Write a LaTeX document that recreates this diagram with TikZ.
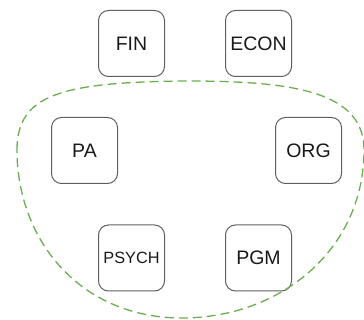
\documentclass[tikz,border=0pt]{standalone}
\usepackage{fontspec}
\setmainfont{Liberation Sans}
\definecolor{boxline}{HTML}{5F5F5F}
\definecolor{groupgreen}{HTML}{6AAE4F}
\begin{document}
\begin{tikzpicture}[x=1pt,y=-1pt,
  field/.style={draw=boxline, line width=1pt, rounded corners=10pt,
    minimum width=66pt, minimum height=66pt, inner sep=0pt,
    font=\fontsize{19.5}{22}\selectfont, text=black!90},
  smallfield/.style={field, font=\fontsize{16.3}{18}\selectfont},
  group/.style={draw=groupgreen, line width=1.3pt, dash pattern=on 9pt off 5pt}]
  \useasboundingbox (0,0) rectangle (364,320);
  \clip (0,0) rectangle (364,320);

  % subject areas
  \node[field] (fin)   at (131.5,43.5) {FIN};
  \node[field] (econ)  at (258.5,43.5) {ECON};
  \node[field] (pa)    at (84.5,150.5) {PA};
  \node[field] (org)   at (308.5,150.5) {ORG};
  \node[smallfield] (psych) at (131.5,258) {PSYCH};
  \node[field] (pgm)   at (258.5,258) {PGM};

  % dashed boundary around the grouped areas
  \draw[group] (17,150) .. controls (17,95) and (60,82) .. (187,81)
    .. controls (295,81) and (364,92) .. (364,150)
    .. controls (364,250) and (280,318) .. (182,318)
    .. controls (80,318) and (17,240) .. (17,150) -- cycle;
\end{tikzpicture}
\end{document}
